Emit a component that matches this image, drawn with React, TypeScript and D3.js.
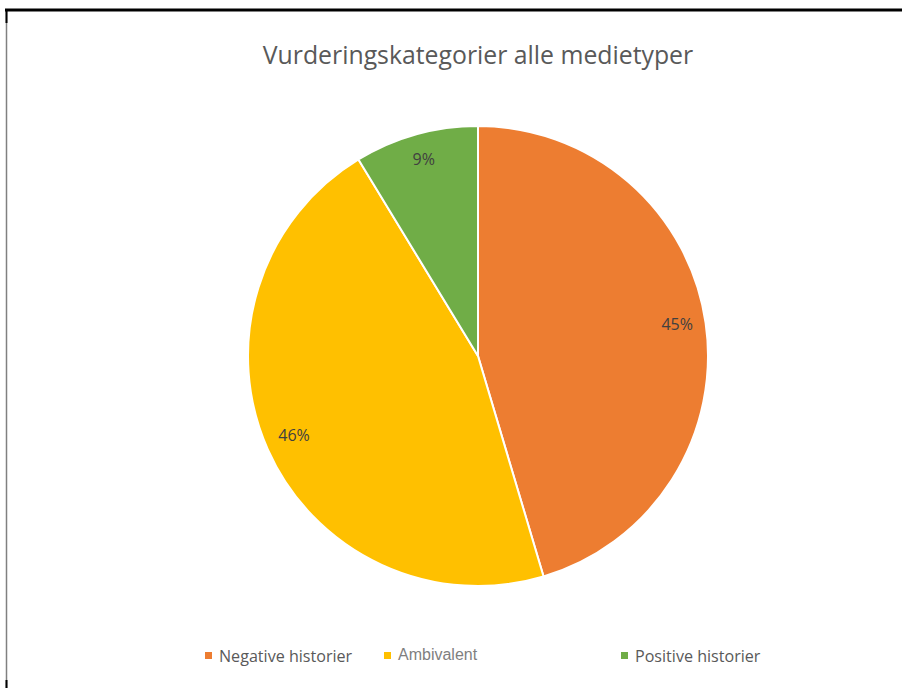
import { useEffect, useRef } from 'react';
import * as d3 from 'd3';

const categories = ['Negative historier', 'Ambivalent', 'Positive historier'];
const shares = [45.4, 45.9, 8.7];
const labels = ['45%', '46%', '9%'];
const colors = ['#ED7D31', '#FFC000', '#70AD47'];

const W = 902;
const H = 688;

export default function App() {
  const svgRef = useRef<SVGSVGElement>(null);

  useEffect(() => {
    const svg = d3.select(svgRef.current);
    svg.selectAll('*').remove();

    // ── frame lines ──
    svg.append('rect').attr('width', W).attr('height', H).attr('fill', '#fff');
    svg.append('line').attr('x1', 6.5).attr('x2', 6.5).attr('y1', 9).attr('y2', H)
      .attr('stroke', '#808080').attr('stroke-width', 1.5);
    svg.append('line').attr('x1', 5).attr('x2', W).attr('y1', 10).attr('y2', 10)
      .attr('stroke', '#000').attr('stroke-width', 3);
    svg.append('line').attr('x1', 6.5).attr('x2', 6.5).attr('y1', 9).attr('y2', 23)
      .attr('stroke', '#000').attr('stroke-width', 2);
    svg.append('line').attr('x1', 6.5).attr('x2', 6.5).attr('y1', 680).attr('y2', H)
      .attr('stroke', '#000').attr('stroke-width', 2);

    // ── title ──
    svg.append('text')
      .attr('x', 478).attr('y', 64)
      .attr('text-anchor', 'middle')
      .attr('font-family', 'Open Sans, sans-serif')
      .attr('font-size', 24.8)
      .attr('fill', '#595959')
      .text('Vurderingskategorier alle medietyper');

    // ── pie ──
    const cx = 478, cy = 356, R = 230;
    const pie = d3.pie<number>().sort(null).value(d => d);
    const arcs = pie(shares);
    const arc = d3.arc<d3.PieArcDatum<number>>().innerRadius(0).outerRadius(R);
    const labelArc = d3.arc<d3.PieArcDatum<number>>().innerRadius(R * 0.875).outerRadius(R * 0.875);

    const g = svg.append('g').attr('transform', `translate(${cx},${cy})`);
    g.selectAll('path')
      .data(arcs)
      .join('path')
      .attr('d', arc)
      .attr('fill', (_, i) => colors[i])
      .attr('stroke', '#fff')
      .attr('stroke-width', 2)
      .attr('stroke-linejoin', 'round');

    g.selectAll('text.lbl')
      .data(arcs)
      .join('text')
      .attr('class', 'lbl')
      .attr('transform', d => {
        const [x, y] = labelArc.centroid(d);
        return `translate(${x},${y - 3})`;
      })
      .attr('text-anchor', 'middle')
      .attr('dominant-baseline', 'central')
      .attr('font-family', 'Open Sans, sans-serif')
      .attr('font-size', 16)
      .attr('fill', '#404040')
      .text((_, i) => labels[i]);

    // ── legend ──
    const legendX = [205, 384, 621];
    const lg = svg.append('g');
    categories.forEach((c, i) => {
      const item = lg.append('g').attr('transform', `translate(${legendX[i]},652)`);
      item.append('rect').attr('width', 7).attr('height', 7).attr('fill', colors[i]);
      item.append('text')
        .attr('x', 14).attr('y', 4)
        .attr('dominant-baseline', 'central')
        .attr('font-family', i === 1 ? 'Liberation Sans, Arial, sans-serif' : 'Open Sans, sans-serif')
        .attr('font-size', i === 1 ? 16 : 16.1)
        .attr('fill', i === 1 ? '#7f7f7f' : '#595959')
        .attr('dy', i === 1 ? -2 : 0)
        .text(c);
    });
  }, []);

  return (
    <div style={{ position: 'absolute', left: 0, top: 0, width: W, height: H }}>
      <svg ref={svgRef} width={W} height={H} style={{ display: 'block' }} />
    </div>
  );
}
